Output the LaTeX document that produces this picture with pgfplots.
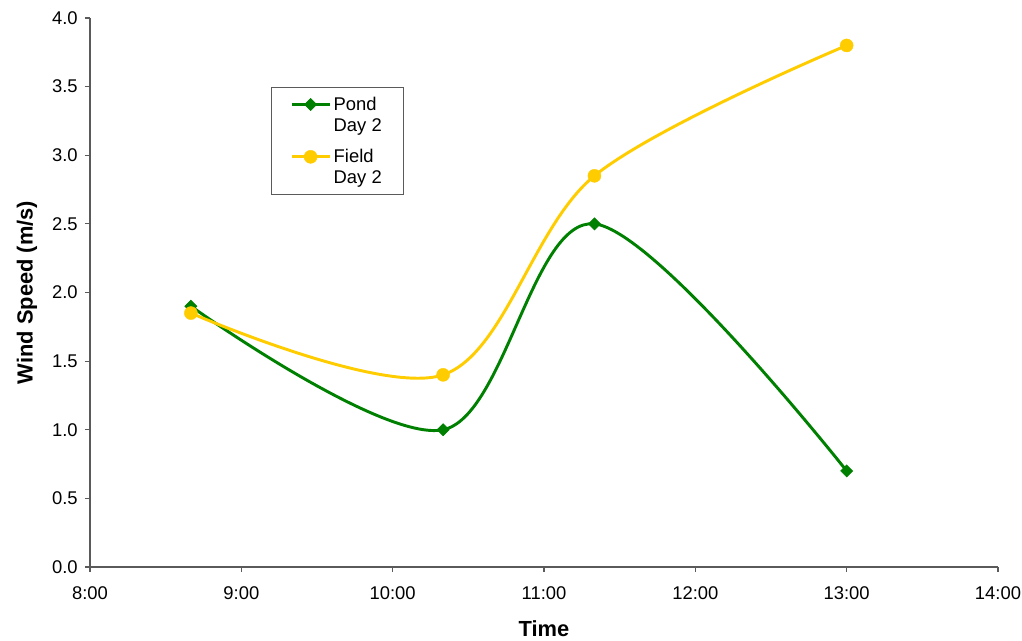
\documentclass[border=0pt]{standalone}
\usepackage{pgfplots}
\pgfplotsset{compat=1.18}
\usepackage{fontspec}
\setmainfont{Liberation Sans}
\definecolor{pondgreen}{RGB}{0,128,0}
\definecolor{fieldgold}{RGB}{255,204,0}
\definecolor{axisgray}{RGB}{90,90,90}
\begin{document}
\begin{tikzpicture}[x=1pt,y=1pt]
\useasboundingbox (-67.5,-55.5) rectangle (699,425.25);
\begin{axis}[
  at={(0,0)}, anchor=south west,
  scale only axis, width=681pt, height=411.75pt,
  xmin=8, xmax=14, ymin=0, ymax=4,
  axis x line=bottom, axis y line=left,
  axis line style={-, color=axisgray, line width=1pt},
  tick style={color=axisgray, line width=0.8pt},
  tick align=outside, major tick length=3.75pt,
  xtick={8,9,10,11,12,13,14},
  xticklabels={8:00,9:00,10:00,11:00,12:00,13:00,14:00},
  ytick={0,0.5,1,1.5,2,2.5,3,3.5,4},
  yticklabel style={/pgf/number format/fixed, /pgf/number format/fixed zerofill, /pgf/number format/precision=1, /pgf/number format/assume math mode=true, xshift=-2pt},
  xticklabel style={yshift=-7.2pt},
  font=\fontsize{13.8}{16}\selectfont,
  xlabel={\textbf{Time}}, ylabel={\textbf{Wind Speed (m/s)}},
  xlabel style={at={(axis description cs:0.5,-0.113)}, anchor=center, font=\fontsize{16.4}{19}\selectfont},
  ylabel style={at={(axis description cs:-0.0694,0.5)}, anchor=center, rotate=0, font=\fontsize{16.4}{19}\selectfont},
  legend style={at={(axis description cs:0.1993,0.8743)}, anchor=north west,
    draw=axisgray, line width=0.8pt, font=\fontsize{13.8}{15.75}\selectfont,
    inner xsep=14pt, inner ysep=5pt,
    cells={align=left}, row sep=8pt},
  legend image code/.code={\draw[yshift=7.9pt, mark repeat=2,mark phase=2] plot coordinates {(0cm,0cm) (0.5cm,0cm) (1cm,0cm)};},
  clip=false,
]
\addplot[color=pondgreen, line width=2.2pt, smooth, tension=0.55, mark=diamond*, mark size=4.5pt,
  mark options={fill=pondgreen, draw=pondgreen, xscale=1.33, line width=0.5pt}]
  coordinates {(8.6667,1.9) (10.3333,1.0) (11.3333,2.5) (13,0.7)};
\addlegendentry{Pond\\Day 2}
\addplot[color=fieldgold, line width=2.2pt, smooth, tension=0.55, mark=*, mark size=4.9pt,
  mark options={fill=fieldgold, draw=fieldgold, line width=0.3pt}]
  coordinates {(8.6667,1.85) (10.3333,1.4) (11.3333,2.85) (13,3.8)};
\addlegendentry{Field\\Day 2}
\end{axis}
\end{tikzpicture}
\end{document}
